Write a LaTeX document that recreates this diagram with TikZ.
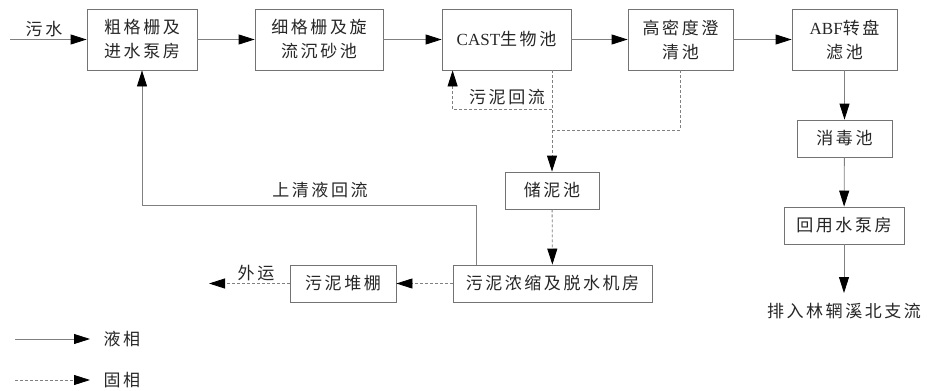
\documentclass[tikz,border=0pt]{standalone}
\usepackage{fontspec}
\setmainfont[LetterSpace=15]{Noto Sans CJK SC}
\newfontfamily\latfont{Liberation Serif}
\newcommand\lat[1]{{\latfont #1}}
\usetikzlibrary{arrows.meta}
\definecolor{boxgray}{gray}{0.45}
\definecolor{linegray}{gray}{0.5}
\tikzset{
  unit/.style={draw=boxgray, line width=0.8pt, align=center, inner sep=0pt, minimum height=37pt},
  flow/.style={draw=linegray, line width=0.8pt, -{Triangle[length=16pt,width=10pt,color=black]}},
  sludgeline/.style={draw=linegray, line width=0.8pt, dash pattern=on 3pt off 2pt},
  sludge/.style={sludgeline, -{Triangle[length=16pt,width=10pt,color=black]}}
}
\begin{document}
\begin{tikzpicture}[x=1pt, y=-1pt, font=\fontsize{17pt}{24pt}\selectfont, text=black!85]
\useasboundingbox (0,0) rectangle (927,391);
% main water line
\node[unit, minimum width=110pt, minimum height=61pt] (coarse) at (142,39.5) {粗格栅及\\进水泵房};
\node[unit, minimum width=128pt, minimum height=61pt] (grit) at (319,39.5) {细格栅及旋\\流沉砂池};
\node[unit, minimum width=129pt, minimum height=61pt] (cast) at (506.5,39.5) {\lat{CAST}生物池};
\node[unit, minimum width=105pt, minimum height=61pt] (clar) at (680.5,39.5) {高密度澄\\清池};
\node[unit, minimum width=105pt, minimum height=61pt] (abf) at (844.5,39.5) {\lat{ABF}转盘\\滤池};
\node[unit, minimum width=95pt] (dis) at (844.5,138.5) {消毒池};
\node[unit, minimum width=120pt] (pump) at (844,225.5) {回用水泵房};
\node[anchor=north, inner sep=0pt] (outlet) at (844,303) {排入林辋溪北支流};
% sludge line
\node[unit, minimum width=94pt] (store) at (552,190.5) {储泥池};
\node[unit, minimum width=199pt] (dewater) at (552.5,283.5) {污泥浓缩及脱水机房};
\node[unit, minimum width=106pt] (shed) at (343,283.5) {污泥堆棚};
\coordinate (inlet) at (10,39.5);
\coordinate (away) at (209,283.5);
\node (inlabel) at (44,29) {污水};
\node (retlabel) at (507,97) {污泥回流};
\node (suplabel) at (320,190) {上清液回流};
\node (awaylabel) at (256,273) {外运};
\draw[flow] (inlet) -- (coarse);
\draw[flow] (coarse) -- (grit);
\draw[flow] (grit) -- (cast);
\draw[flow] (cast) -- (clar);
\draw[flow] (clar) -- (abf);
\draw[flow] (abf) -- (dis);
\draw[flow] (dis) -- (pump);
\draw[flow, shorten >=10pt] (pump) -- (outlet);
\draw[sludge] (cast.south -| store) -- (store);
\draw[sludge] (cast.south -| store) ++(0,39) -| ([xshift=11pt]cast.south west);
\draw[sludgeline] (clar.south) |- (store |- 0,130);
\draw[sludge] (store) -- (dewater);
\draw[sludge] (dewater) -- (shed);
\draw[sludge] (shed) -- (away);
\draw[flow] ([xshift=24pt]dewater.north west) |- (coarse.south |- 0,205) -- (coarse.south);
% legend
\coordinate (l1a) at (15,339);
\coordinate (l1b) at (90,339);
\coordinate (l2a) at (15,380);
\coordinate (l2b) at (90,380);
\draw[flow] (l1a) -- (l1b);
\draw[sludge] (l2a) -- (l2b);
\node[anchor=west] (liquid) at (100,339) {液相};
\node[anchor=west] (solid) at (100,380) {固相};
\end{tikzpicture}
\end{document}
